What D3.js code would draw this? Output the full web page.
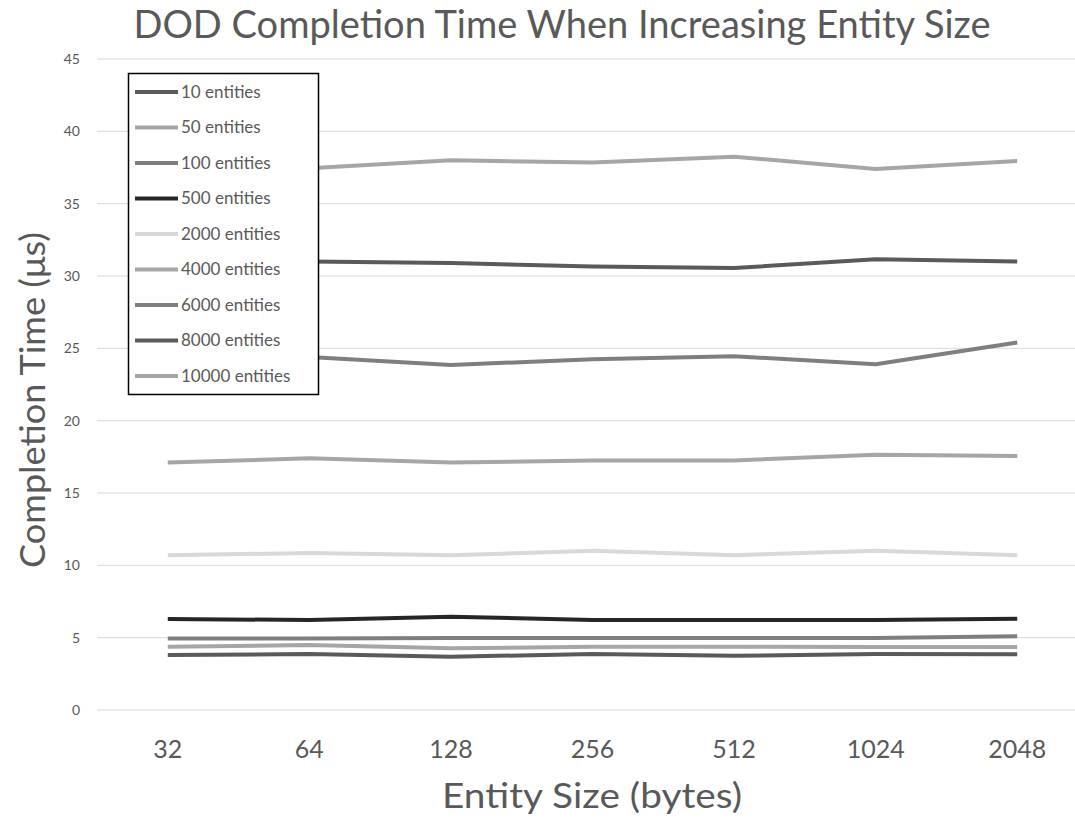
<!DOCTYPE html>
<html>
<head>
<meta charset="utf-8">
<script src="https://cdn.jsdelivr.net/npm/d3@7"></script>
<style>
  body { margin: 0; background: #fff; }
  svg { display: block; font-family: Lato, "Open Sans", sans-serif; }
</style>
</head>
<body>
<svg id="chart" width="1075" height="820"></svg>
<script>
// entity sizes (bytes) on the x axis
const sizes = ["32", "64", "128", "256", "512", "1024", "2048"];
const yTicks = [0, 5, 10, 15, 20, 25, 30, 35, 40, 45];

// completion time in microseconds, one array per entity count
const e10 = [3.80, 3.87, 3.68, 3.87, 3.75, 3.87, 3.85];
const e50 = [4.38, 4.49, 4.26, 4.38, 4.38, 4.35, 4.35];
const e100 = [4.95, 4.95, 4.97, 4.97, 4.97, 4.97, 5.10];
const e500 = [6.29, 6.22, 6.45, 6.22, 6.22, 6.22, 6.30];
const e2000 = [10.7, 10.85, 10.7, 11.0, 10.7, 11.0, 10.7];
const e4000 = [17.1, 17.4, 17.1, 17.25, 17.25, 17.65, 17.55];
const e6000 = [24.6, 24.4, 23.85, 24.25, 24.45, 23.9, 25.4];
const e8000 = [31.2, 31.0, 30.9, 30.65, 30.55, 31.15, 31.0];
const e10000 = [37.2, 37.45, 38.0, 37.85, 38.25, 37.4, 37.95];

const seriesNames = ["10 entities", "50 entities", "100 entities", "500 entities",
  "2000 entities", "4000 entities", "6000 entities", "8000 entities", "10000 entities"];
const seriesValues = [e10, e50, e100, e500, e2000, e4000, e6000, e8000, e10000];
const seriesColors = ["#5a5a5a", "#a6a6a6", "#7f7f7f", "#262626",
  "#d9d9d9", "#a6a6a6", "#7f7f7f", "#5a5a5a", "#a6a6a6"];

const svg = d3.select("#chart");
const textColor = "#595959";

const x = d3.scalePoint().domain(sizes).range([97, 1088]).padding(0.5);
const y = d3.scaleLinear().domain([0, 45]).range([710, 59]);

// gridlines
svg.append("g")
  .selectAll("line")
  .data(yTicks)
  .enter()
  .append("line")
  .attr("x1", 97)
  .attr("x2", 1088)
  .attr("y1", (d) => y(d))
  .attr("y2", (d) => y(d))
  .attr("stroke", "#d9d9d9")
  .attr("stroke-width", 1);

// y tick labels
svg.append("g")
  .selectAll("text")
  .data(yTicks)
  .enter()
  .append("text")
  .attr("x", 80)
  .attr("y", (d) => y(d))
  .attr("dy", "0.35em")
  .attr("text-anchor", "end")
  .attr("fill", textColor)
  .attr("font-size", 14)
  .text((d) => d);

// x tick labels
svg.append("g")
  .selectAll("text")
  .data(sizes)
  .enter()
  .append("text")
  .attr("x", (d) => x(d))
  .attr("y", 758)
  .attr("text-anchor", "middle")
  .attr("fill", textColor)
  .attr("font-size", 25)
  .text((d) => d);

// series lines
const line = d3.line()
  .x((d, i) => x(sizes[i]))
  .y((d) => y(d));

svg.append("g")
  .selectAll("path")
  .data(seriesValues)
  .enter()
  .append("path")
  .attr("fill", "none")
  .attr("stroke", (d, i) => seriesColors[i])
  .attr("stroke-width", 4)
  .attr("stroke-linejoin", "round")
  .attr("d", line);

// titles
svg.append("text")
  .attr("x", 562)
  .attr("y", 38)
  .attr("text-anchor", "middle")
  .attr("fill", textColor)
  .attr("font-size", 38)
  .attr("textLength", 857)
  .attr("lengthAdjust", "spacingAndGlyphs")
  .text("DOD Completion Time When Increasing Entity Size");

svg.append("text")
  .attr("transform", "translate(45, 400) rotate(-90)")
  .attr("text-anchor", "middle")
  .attr("fill", textColor)
  .attr("font-size", 35)
  .attr("textLength", 336)
  .attr("lengthAdjust", "spacingAndGlyphs")
  .text("Completion Time (μs)");

svg.append("text")
  .attr("x", 592)
  .attr("y", 808)
  .attr("text-anchor", "middle")
  .attr("fill", textColor)
  .attr("font-size", 35)
  .attr("textLength", 300)
  .attr("lengthAdjust", "spacingAndGlyphs")
  .text("Entity Size (bytes)");

// legend
const legend = svg.append("g");
legend.append("rect")
  .attr("x", 128.5)
  .attr("y", 73.5)
  .attr("width", 190)
  .attr("height", 321)
  .attr("fill", "#fff")
  .attr("stroke", "#000")
  .attr("stroke-width", 1.5);

const item = legend.selectAll("g.item")
  .data(seriesNames)
  .enter()
  .append("g")
  .attr("class", "item")
  .attr("transform", (d, i) => `translate(0, ${92 + i * 35.5})`);

item.append("line")
  .attr("x1", 135)
  .attr("x2", 178)
  .attr("stroke", (d, i) => seriesColors[i])
  .attr("stroke-width", 4);

item.append("text")
  .attr("x", 181)
  .attr("dy", "0.35em")
  .attr("fill", textColor)
  .attr("font-size", 17)
  .text((d) => d);
</script>
</body>
</html>
